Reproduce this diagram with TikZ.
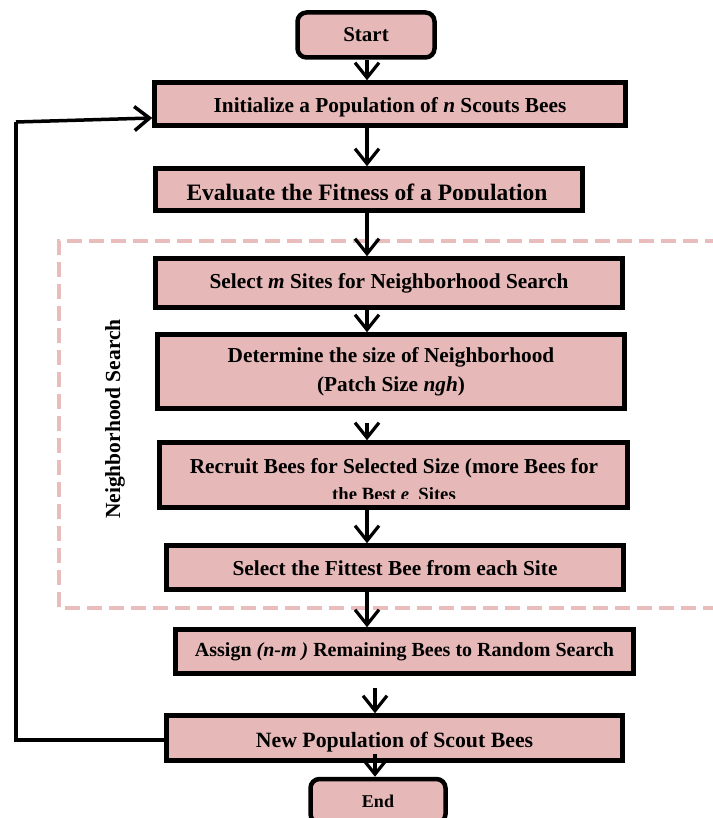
\documentclass[tikz,border=0pt]{standalone}
\usepackage{fontspec}
\setmainfont{Liberation Serif}
\usetikzlibrary{arrows.meta}
\definecolor{boxpink}{HTML}{E6B8B7}
\definecolor{dashpink}{HTML}{E8BDBC}
\begin{document}
\begin{tikzpicture}[x=1pt,y=-1pt,
  box/.style={draw=black, line width=4.5pt, fill=boxpink, inner sep=0pt,
    align=center, font=\bfseries\fontsize{21.3}{29}\selectfont},
  term/.style={box, rounded corners=9pt},
  txt/.style={inner sep=0pt, font=\bfseries\fontsize{21.3}{25}\selectfont},
  arr/.style={line width=3.2pt, -{Straight Barb[length=15pt,width=24pt]}},
  loopline/.style={line width=3.5pt},
  region/.style={draw=dashpink, line width=4.5pt, dash pattern=on 15pt off 7pt}]
\useasboundingbox (0,0) rectangle (712,818);

% neighborhood search region
\draw[region] (720,241) -- (59,241) -- (59,608) -- (720,608);
\node[txt, rotate=90, font=\bfseries\fontsize{21.5}{25}\selectfont] (nslabel) at (115,419) {Neighborhood Search};

% flow boxes
\node[term, minimum width=137pt, minimum height=45pt, font=\bfseries\fontsize{21}{25}\selectfont] (start) at (366,35) {Start};
\node[box, minimum width=471pt, minimum height=43pt, text height=19pt, text depth=1pt] (init) at (390,104)
  {Initialize a Population of \textit{n} Scouts Bees};
\node[box, minimum width=427pt, minimum height=42pt] (eval) at (369,189.5) {};
\begin{scope}
  \clip (160,170) rectangle (580,199.5);
  \node[txt, anchor=base, font=\bfseries\fontsize{23.5}{27}\selectfont] (evaltext) at (367,201)
    {Evaluate the Fitness of a Population};
\end{scope}
\node[box, minimum width=467pt, minimum height=49pt] (selm) at (389,283)
  {Select \textit{m} Sites for Neighborhood Search};
\node[box, minimum width=467pt, minimum height=74pt] (det) at (391,371.5)
  {Determine the size of Neighborhood\\(Patch Size \textit{ngh})};
\node[box, minimum width=468pt, minimum height=65pt] (rec) at (393.5,475) {};
\node[txt] (rectext) at (394,468) {Recruit Bees for Selected Size (more Bees for};
\begin{scope}
  \clip (165,480) rectangle (625,498.5);
  \node[txt, anchor=base, font=\bfseries\fontsize{18.7}{22}\selectfont] (rectext2) at (394,500)
    {the Best \textit{e}~ Sites};
\end{scope}
\node[box, minimum width=457pt, minimum height=44pt, text height=17pt, text depth=2pt] (fit) at (395,567.5)
  {Select the Fittest Bee from each Site};
\node[box, minimum width=458pt, minimum height=44pt, font=\bfseries\fontsize{20}{24}\selectfont] (asg) at (404.5,651.5)
  {Assign \textit{(n-m )} Remaining Bees to Random Search};
\node[box, minimum width=456pt, minimum height=45pt, text height=19pt, text depth=1pt, font=\bfseries\fontsize{21.8}{25}\selectfont] (newp) at (394.5,738)
  {New Population of Scout Bees};
\node[term, minimum width=135pt, minimum height=44pt, font=\bfseries\fontsize{18}{21}\selectfont] (end) at (378,801) {End};

% vertical axes of the connectors
\coordinate (ax) at (367,0);
\coordinate (bx) at (375,0);

\draw[arr] (start.south -| ax) -- (init.north -| ax);
\draw[arr] (init.south -| ax) -- (eval.north -| ax);
\draw[arr] (eval.south -| ax) -- (selm.north -| ax);
\draw[arr] (selm.south -| ax) -- (det.north -| ax);
\draw[arr, shorten <=12pt] (det.south -| ax) -- (rec.north -| ax);
\draw[arr] (rec.south -| ax) -- (fit.north -| ax);
\draw[arr] (fit.south -| ax) -- (asg.north -| ax);
\draw[arr, shorten <=12pt] (asg.south -| bx) -- (newp.north -| bx);
\draw[arr, shorten <=-9pt] (newp.south -| bx) -- (end.north -| bx);

% feedback loop
\coordinate (loopbot) at (16,740);
\coordinate (looptop) at (16,122);
\draw[loopline] ([yshift=-2pt]newp.west) -- (loopbot) -- (looptop);
\draw[arr, line width=3.5pt] (looptop) -- ([yshift=-14pt]init.west);
\end{tikzpicture}
\end{document}
